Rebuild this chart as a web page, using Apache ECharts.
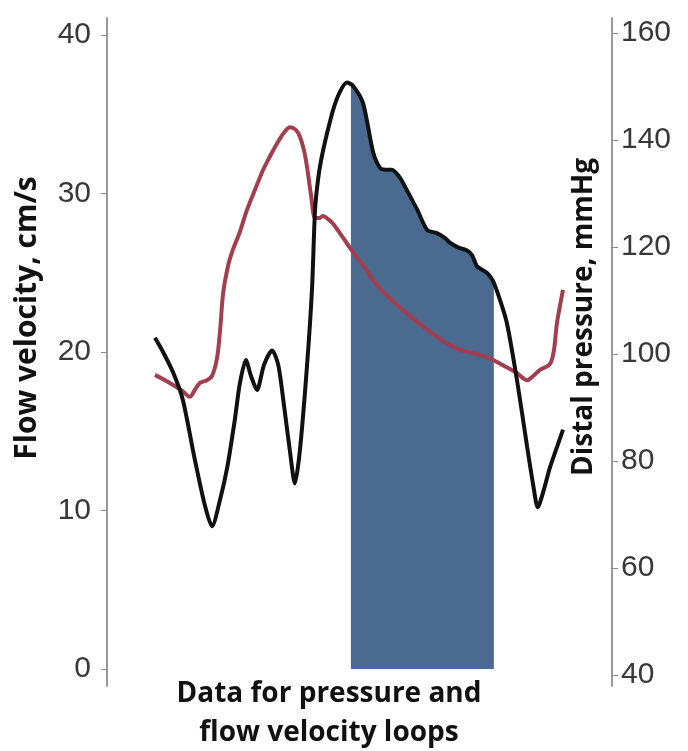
<!DOCTYPE html>
<html><head><meta charset="utf-8">
<script src="https://cdn.jsdelivr.net/npm/echarts@6/dist/echarts.min.js"></script>
<style>html,body{margin:0;padding:0;background:#fff}#c{width:688px;height:751px}</style>
</head><body><div id="c"></div>
<script>
// time axis: arbitrary units (0-100) across the plot width
const flowTime = [9.5,11.1,13.1,15.0,17.4,19.4,20.8,22.4,23.8,25.3,26.3,27.5,28.5,29.7,31.1,32.7,33.9,34.9,36.2,37.2,38.2,39.6,40.6,41.2,41.8,42.4,43.2,44.8,46.1,47.5,48.7,50.7,52.7,54.1,55.2,56.4,58.0,59.4,61.4,63.4,65.3,66.9,67.9,69.5,71.3,72.3,73.3,75.2,76.4,77.8,79.2,81.2,83.2,84.4,85.3,86.5,87.7,89.1,90.3];
const flowVelocity = [20.9,20.0,18.7,17.0,13.2,10.3,9.0,10.7,12.7,15.7,18.0,19.5,18.5,17.6,19.2,20.1,19.2,17.0,13.8,11.7,13.8,19.1,24.0,29.0,30.9,32.1,33.3,35.3,36.4,37.0,36.8,35.7,32.6,31.6,31.5,31.5,31.0,30.2,29.0,27.7,27.5,27.2,26.9,26.6,26.4,26.1,25.4,25.0,24.5,23.3,21.8,18.2,14.0,11.6,10.2,11.3,12.7,14.0,15.1];
const pressureTime = [9.5,11.5,13.1,14.9,16.4,17.4,18.4,19.8,20.8,21.8,22.4,23.0,24.0,24.9,26.3,27.7,29.3,30.9,32.3,33.7,35.0,36.2,37.4,38.2,39.0,39.6,40.4,41.2,42.0,42.8,43.8,44.8,46.1,47.5,49.1,50.9,52.7,54.9,57.4,60.2,62.8,65.3,67.9,70.1,72.3,74.7,76.4,78.0,79.8,81.2,83.2,84.4,85.7,87.7,88.5,89.1,90.3];
const distalPressure = [96.1,95.1,94.2,93.1,92.0,93.3,94.6,95.1,95.9,99.3,104.5,111.4,116.6,119.4,122.8,126.9,130.7,134.4,137.0,139.4,141.3,142.4,141.9,140.6,138.1,135.0,129.7,125.4,125.4,125.8,125.2,124.3,122.6,120.7,118.5,116.3,113.8,111.4,109.2,106.9,105.0,103.2,101.7,100.7,100.2,99.6,98.9,98.1,97.2,96.4,95.1,95.9,97.0,98.1,100.7,105.8,112.0];
const loopStart = [48.3, 36.9];
const loopEnd = [76.6, 24.4];
const flowTicks = [0, 10, 20, 30, 40];
const pressureTicks = [40, 60, 80, 100, 120, 140, 160];
const flowTitle = 'Flow velocity, cm/s';
const pressureTitle = 'Distal pressure, mmHg';
const xTitle = ['Data for pressure and', 'flow velocity loops'];
</script>
<script>
const chart = echarts.init(document.getElementById('c'), null, {renderer: 'canvas'});
const flowData = flowTime.map((t, i) => [t, flowVelocity[i]]);
const pressureData = pressureTime.map((t, i) => [t, distalPressure[i]]);
const loopData = [loopStart].concat(flowData.filter(d => d[0] > loopStart[0] && d[0] < loopEnd[0])).concat([loopEnd]);

const labelFont = {fontSize: 30, color: '#383838', fontFamily: 'Liberation Sans'};
const hiddenX = i => ({type: 'value', gridIndex: i, min: 0, max: 100, show: false});
const titleFont = 'bold 28px "Open Sans"';
const leftTitleFont = 'bold 30px "Open Sans"';

chart.setOption({
  animation: false,
  backgroundColor: '#fff',
  grid: [
    {left: 107, right: 76, top: 35, height: 634},
    {left: 107, right: 76, top: 33, height: 642},
    {left: 107, right: 76, top: 18, height: 668}
  ],
  xAxis: [hiddenX(0), hiddenX(1), hiddenX(2)],
  yAxis: [
    {type: 'value', gridIndex: 0, position: 'left',
     min: flowTicks[0], max: flowTicks[flowTicks.length - 1], interval: flowTicks[1] - flowTicks[0],
     axisLine: {show: false, onZero: false}, splitLine: {show: false},
     axisTick: {show: true, length: 6, lineStyle: {color: '#8a8a8a', width: 1}},
     axisLabel: Object.assign({margin: 16}, labelFont)},
    {type: 'value', gridIndex: 1, position: 'right',
     min: pressureTicks[0], max: pressureTicks[pressureTicks.length - 1], interval: pressureTicks[1] - pressureTicks[0],
     axisLine: {show: false, onZero: false}, splitLine: {show: false},
     axisTick: {show: true, length: 6, lineStyle: {color: '#8a8a8a', width: 1}},
     axisLabel: Object.assign({margin: 9}, labelFont)},
    {type: 'value', gridIndex: 2, position: 'left', min: 0, max: 1,
     axisLine: {show: true, onZero: false, lineStyle: {color: '#9a9a9a', width: 2}},
     axisTick: {show: false}, axisLabel: {show: false}, splitLine: {show: false}},
    {type: 'value', gridIndex: 2, position: 'right', min: 0, max: 1,
     axisLine: {show: true, onZero: false, lineStyle: {color: '#9a9a9a', width: 2}},
     axisTick: {show: false}, axisLabel: {show: false}, splitLine: {show: false}}
  ],
  series: [
    {name: 'loop window', type: 'line', xAxisIndex: 0, yAxisIndex: 0, data: loopData,
     smooth: 0.25, showSymbol: false, symbol: 'none', z: 1,
     lineStyle: {width: 0, color: '#4A6A8F'},
     areaStyle: {color: '#4A6A8F', opacity: 1}},
    {name: 'Distal pressure', type: 'line', xAxisIndex: 1, yAxisIndex: 1, data: pressureData,
     smooth: 0.3, showSymbol: false, symbol: 'none', z: 2,
     lineStyle: {width: 4, color: '#A23E50'}},
    {name: 'Flow velocity', type: 'line', xAxisIndex: 0, yAxisIndex: 0, data: flowData,
     smooth: 0.25, showSymbol: false, symbol: 'none', z: 3,
     lineStyle: {width: 4, color: '#111111'}}
  ],
  graphic: [
    {type: 'text', x: 27, y: 318, rotation: Math.PI / 2,
     style: {text: flowTitle, font: leftTitleFont, fill: '#111', textAlign: 'center', textVerticalAlign: 'middle', verticalAlign: 'middle'}},
    {type: 'text', x: 584, y: 317, rotation: Math.PI / 2,
     style: {text: pressureTitle, font: titleFont, fill: '#111', textAlign: 'center', textVerticalAlign: 'middle', verticalAlign: 'middle'}},
    {type: 'text', x: 329, y: 694,
     style: {text: xTitle[0], font: titleFont, fill: '#111', textAlign: 'center', textVerticalAlign: 'middle', verticalAlign: 'middle'}},
    {type: 'text', x: 329, y: 733,
     style: {text: xTitle[1], font: titleFont, fill: '#111', textAlign: 'center', textVerticalAlign: 'middle', verticalAlign: 'middle'}}
  ]
});
</script>
</body></html>
